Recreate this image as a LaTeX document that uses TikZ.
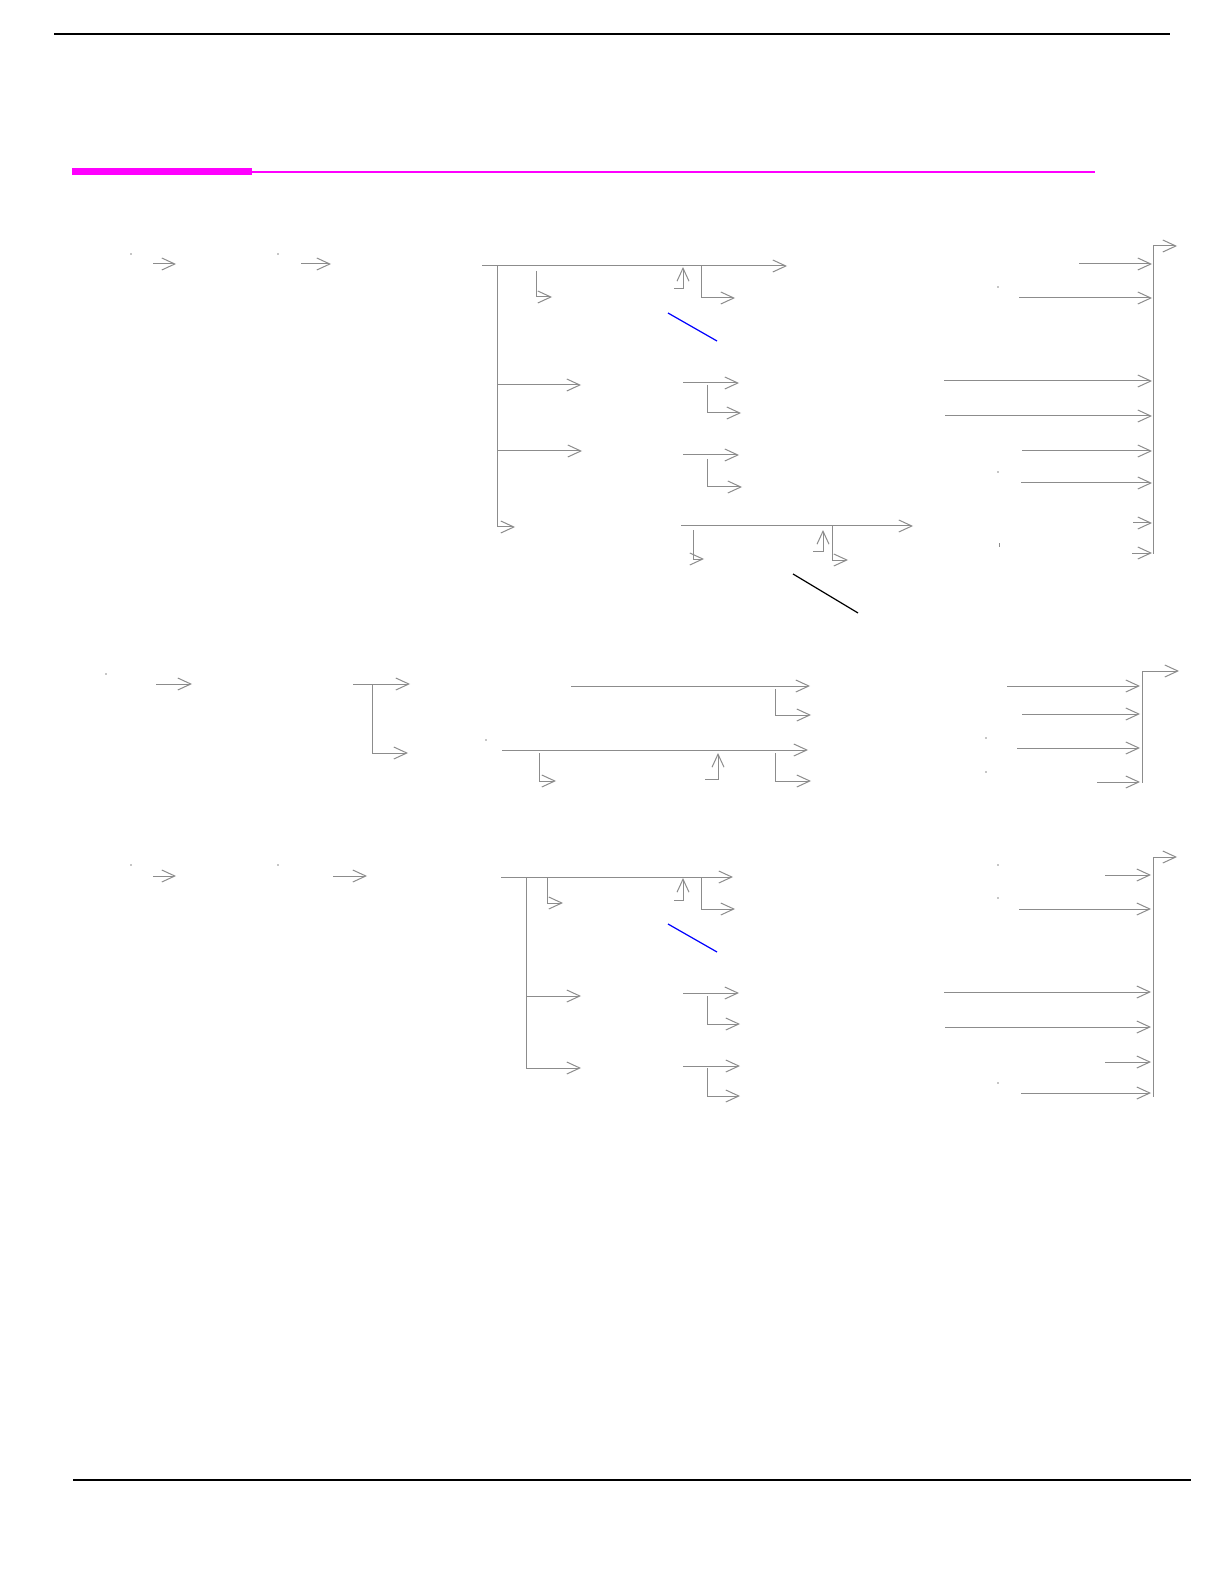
\documentclass[tikz,border=0pt]{standalone}
\usepackage{tikz}
\usetikzlibrary{calc}
\usetikzlibrary{arrows.meta}
\definecolor{linegray}{RGB}{140,140,140}
\definecolor{barpink}{RGB}{255,0,255}
\begin{document}
\begin{tikzpicture} [x=0.5pt, y=-0.5pt,
  wire/.style={draw=linegray, line width=0.5pt},
  conn/.style={wire, -{Straight Barb[length=6.5pt, width=6pt]}},
  speck/.style={fill=linegray}]
\useasboundingbox (0,0) rectangle (1224,1582);

% page rules
\draw[black, line width=0.75pt] (54,34)--(1170,34);
\draw[barpink, line width=1pt] (252,172)--(1095,172);
\draw[barpink, line width=3.5pt] (72,172)--(252,172);
\draw[black, line width=0.75pt] (73,1480)--(1191,1480);

% ---- first block ----
\fill[speck] (131,254) circle (0.4pt) (278,254) circle (0.4pt);
\draw[conn] (153,264)--(176,264);
\draw[conn] (301,264)--(331,264);

\coordinate (rootA) at (482,266);
\coordinate (trunkA) at (497,266);
\draw[conn] (rootA)--(787,266);
\draw[conn] (trunkA)--(497,527)--(515,527);
\draw[conn] (trunkA |- 0,385)--(581,385);
\draw[conn] (trunkA |- 0,451)--(582,451);
\draw[conn] (536,271)--(536,297)--(552,297);
\draw[conn] (674,289)--(683,289)--(683,267);
\draw[conn] (701,266)--(701,298)--(735,298);
\draw[blue, line width=0.6pt] (668,313)--(717,341);

\draw[conn] (683,383)--(739,383);
\draw[conn] (707,385)--(707,413)--(741,413);
\draw[conn] (683,455)--(739,455);
\draw[conn] (707,459)--(707,487)--(742,487);

\coordinate (rootC) at (681,526);
\draw[conn] (rootC)--(913,526);
\draw[conn] (693,530)--(693,559)--(704,559);
\draw[conn] (813,551)--(823,551)--(823,530);
\draw[conn] (832,526)--(832,560)--(848,560);
\draw[black, line width=0.6pt] (793,574)--(858,613);

\coordinate (busA) at (1153,246);
\draw[wire] (busA)--(1153,554);
\draw[conn] (busA)--++(24,0);
\foreach \y/\x in {264/1079, 298/1019, 381/944, 416/945, 451/1022, 483/1021, 523/1133, 553/1132}
  \draw[conn] (\x,\y)--(1152,\y);
\fill[speck] (998,287) circle (0.4pt) (998,472) circle (0.4pt);
\draw[wire] (999,543)--(999,547);

% ---- second block ----
\fill[speck] (106,674) circle (0.4pt) (486,740) circle (0.4pt);
\draw[conn] (156,684)--(192,684);
\coordinate (split) at (372,684);
\draw[conn] (353,684)--(410,684);
\draw[conn] (split)--(372,753)--(408,753);

\draw[conn] (571,686)--(810,686);
\draw[conn] (775,689)--(775,715)--(811,715);
\coordinate (rootB) at (502,750);
\draw[conn] (rootB)--(808,750);
\draw[conn] (539,753)--(539,781)--(556,781);
\draw[conn] (705,779)--(718,779)--(718,753);
\draw[conn] (775,753)--(775,781)--(811,781);

\coordinate (busB) at (1142,671);
\draw[wire] (busB)--(1142,783);
\draw[conn] (busB)--++(37,0);
\foreach \y/\x in {686/1007, 714/1022, 748/1017, 782/1097}
  \draw[conn] (\x,\y)--(1140,\y);
\fill[speck] (986,738) circle (0.4pt) (986,772) circle (0.4pt);

% ---- third block ----
\fill[speck] (131,865) circle (0.4pt) (278,865) circle (0.4pt);
\draw[conn] (153,876)--(176,876);
\draw[conn] (333,876)--(367,876);

\coordinate (rootD) at (501,877);
\coordinate (trunkD) at (526,877);
\draw[conn] (rootD)--(733,877);
\draw[conn] (trunkD)--(526,1068)--(581,1068);
\draw[conn] (trunkD |- 0,996)--(581,996);
\draw[conn] (547,877)--(547,903)--(563,903);
\draw[conn] (674,900)--(683,900)--(683,878);
\draw[conn] (701,877)--(701,909)--(735,909);
\draw[blue, line width=0.6pt] (668,924)--(717,952);

\draw[conn] (683,993)--(739,993);
\draw[conn] (707,996)--(707,1024)--(740,1024);
\draw[conn] (683,1066)--(740,1066);
\draw[conn] (707,1068)--(707,1096)--(740,1096);

\coordinate (busD) at (1153,857);
\draw[wire] (busD)--(1153,1097);
\draw[conn] (busD)--++(24,0);
\foreach \y/\x in {875/1105, 909/1019, 992/944, 1027/945, 1062/1105, 1093/1021}
  \draw[conn] (\x,\y)--(1151,\y);
\fill[speck] (998,865) circle (0.4pt) (998,898) circle (0.4pt) (998,1083) circle (0.4pt);

\end{tikzpicture}
\end{document}
